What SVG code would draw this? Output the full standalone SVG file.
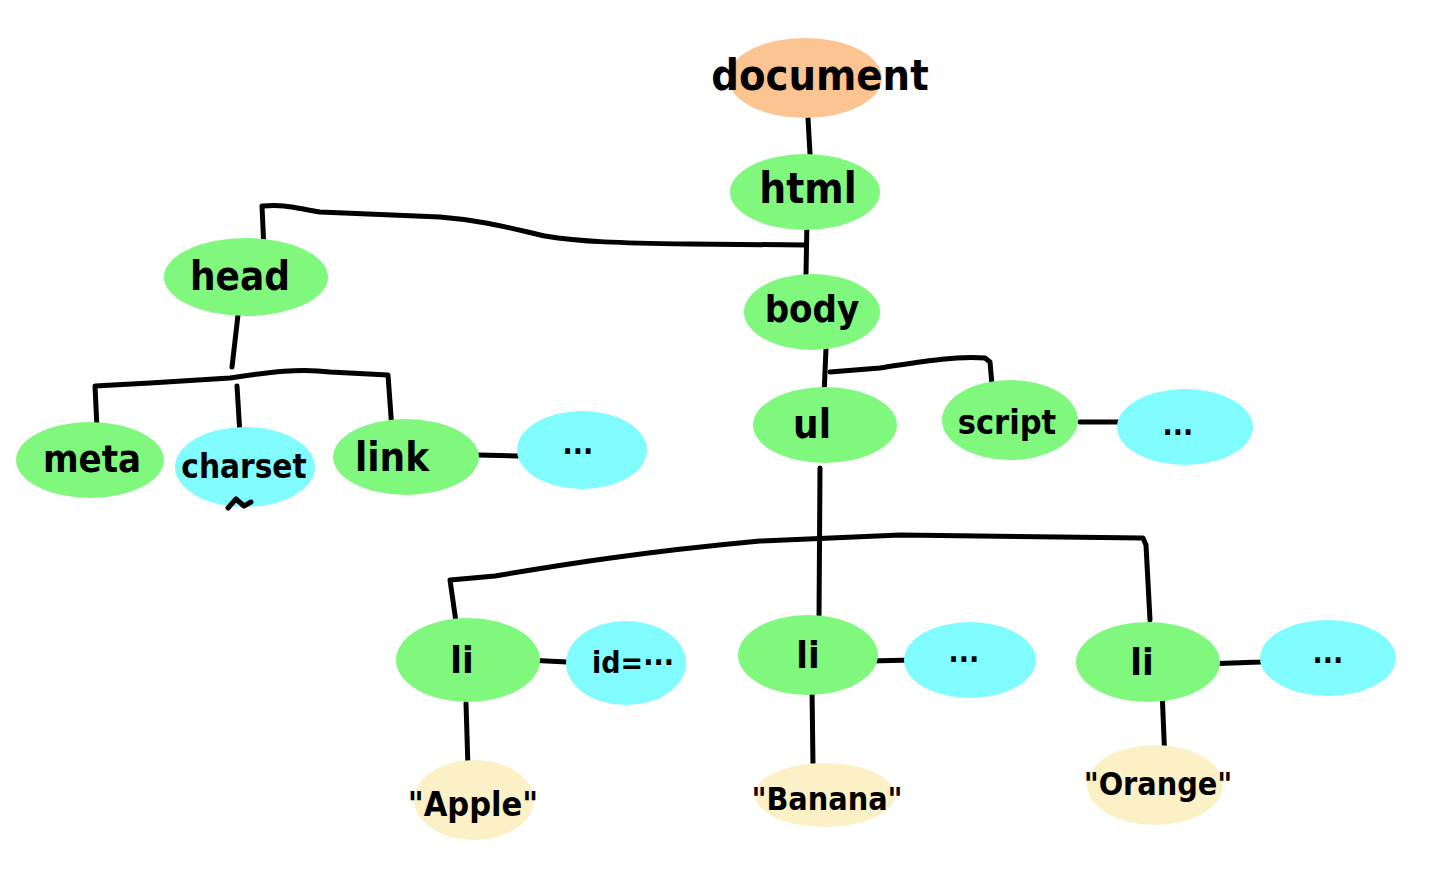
<svg xmlns="http://www.w3.org/2000/svg" width="1440" height="891" viewBox="0 0 1440 891">
<style>
.g{fill:#80F87E}
.c{fill:#80FCFF}
.o{fill:#FCC491}
.y{fill:#FCF0C6}
.t{font-family:"DejaVu Sans Condensed","DejaVu Sans",sans-serif;font-weight:bold;fill:#000;text-anchor:middle}
.e{fill:none;stroke:#000;stroke-width:5;stroke-linecap:round;stroke-linejoin:round}
</style>
<rect width="1440" height="891" fill="#fff"/>
<g id="connectors">
<path class="e" d="M808,118 L810,154"/>
<path class="e" d="M807,220 L806,274"/>
<path class="e" d="M806,245 L690,244 C620,243 580,242 545,236 C510,228 480,220 440,217 L320,212 C295,208 285,204 263,206 L262,206 L264,250"/>
<path class="e" d="M238,315 L232,367"/>
<path class="e" d="M97,428 L95,386 L150,383 L230,378 C270,372 300,368 330,372 L388,375 L392,430"/>
<path class="e" d="M237,386 L240,435"/>
<path class="e" d="M478,455 L518,456 C522,455 524,452 526,450"/>
<path class="e" d="M826,348 L824,396"/>
<path class="e" d="M830,372 L880,368 C920,362 950,356 985,358 L990,362 L992,385"/>
<path class="e" d="M1080,422 L1120,422"/>
<path class="e" d="M820,468 L819,620"/>
<path class="e" d="M456,622 L450,580 L495,576 C560,565 640,552 760,541 L900,535 L1143,538 L1146,545 L1150,620"/>
<path class="e" d="M527,660 L567,662"/>
<path class="e" d="M870,661 L912,660 C916,659 918,657 920,654"/>
<path class="e" d="M1205,664 L1260,662 C1266,661 1270,658 1272,654"/>
<path class="e" d="M466,703 L468,768"/>
<path class="e" d="M812,688 L813,765"/>
<path class="e" d="M1162,690 L1165,762"/>
</g>
<g id="document"><ellipse class="o" cx="805" cy="78" rx="77" ry="40"/><text class="t" x="820" y="90" font-size="43">document</text></g>
<g id="html"><ellipse class="g" cx="805" cy="192" rx="75" ry="38"/><text class="t" x="808" y="203" font-size="42">html</text></g>
<g id="head"><ellipse class="g" cx="246" cy="277" rx="82" ry="39"/><text class="t" x="240" y="290" font-size="40">head</text></g>
<g id="body"><ellipse class="g" cx="812" cy="312" rx="68" ry="38"/><text class="t" x="812" y="322" font-size="38">body</text></g>
<g id="meta"><ellipse class="g" cx="90" cy="460" rx="74" ry="38"/><text class="t" x="92" y="472" font-size="38">meta</text></g>
<g id="charset"><ellipse class="c" cx="245" cy="467" rx="70" ry="40"/><text class="t" x="244" y="478" font-size="33">charset</text><path class="e" d="M228,508 L236,499 L244,506 L251,502" stroke-width="3.5"/></g>
<g id="link"><ellipse class="g" cx="406" cy="457" rx="73" ry="38"/><text class="t" x="392" y="471" font-size="40">link</text></g>
<g id="link-attr"><ellipse class="c" cx="582" cy="450" rx="65" ry="39"/><text class="t" x="578" y="454" font-size="30">...</text></g>
<g id="ul"><ellipse class="g" cx="825" cy="425" rx="72" ry="38"/><text class="t" x="812" y="438" font-size="40">ul</text></g>
<g id="script"><ellipse class="g" cx="1010" cy="420" rx="68" ry="40"/><text class="t" x="1007" y="434" font-size="34">script</text></g>
<g id="script-attr"><ellipse class="c" cx="1185" cy="427" rx="68" ry="38"/><text class="t" x="1178" y="435" font-size="30">...</text></g>
<g id="li1"><ellipse class="g" cx="468" cy="660" rx="72" ry="42"/><text class="t" x="462" y="673" font-size="38">li</text></g>
<g id="li1-attr"><ellipse class="c" cx="626" cy="663" rx="60" ry="42"/><text class="t" x="633" y="673" font-size="30">id=···</text></g>
<g id="li2"><ellipse class="g" cx="808" cy="655" rx="70" ry="40"/><text class="t" x="808" y="668" font-size="38">li</text></g>
<g id="li2-attr"><ellipse class="c" cx="970" cy="660" rx="66" ry="38"/><text class="t" x="964" y="662" font-size="30">...</text></g>
<g id="li3"><ellipse class="g" cx="1148" cy="662" rx="72" ry="40"/><text class="t" x="1142" y="675" font-size="38">li</text></g>
<g id="li3-attr"><ellipse class="c" cx="1328" cy="658" rx="68" ry="38"/><text class="t" x="1328" y="663" font-size="30">...</text></g>
<g id="apple"><ellipse class="y" cx="474" cy="800" rx="60" ry="40"/><text class="t" x="473" y="816" font-size="34">"Apple"</text></g>
<g id="banana"><ellipse class="y" cx="825" cy="795" rx="70" ry="32"/><text class="t" x="827" y="810" font-size="32">"Banana"</text></g>
<g id="orange"><ellipse class="y" cx="1155" cy="785" rx="68" ry="40"/><text class="t" x="1158" y="795" font-size="32">"Orange"</text></g>
</svg>
